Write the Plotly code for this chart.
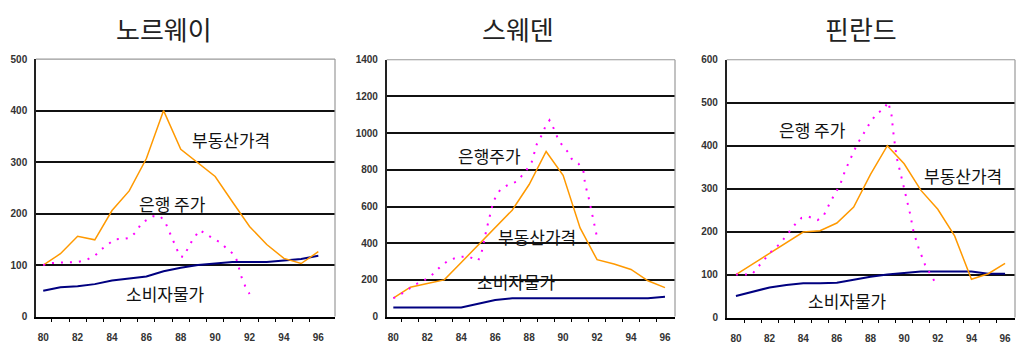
import plotly.graph_objects as go

# ---- data -------------------------------------------------------------
years = list(range(80, 97))

countries = ["노르웨이", "스웨덴", "핀란드"]

# Norway
nor_realestate = [100, 122, 156, 149, 206, 244, 307, 400, 325, 298, 272, 223, 175, 140, 113, 103, 126]
nor_cpi = [50, 57, 59, 63, 70, 74, 78, 88, 95, 100, 103, 106, 106, 106, 109, 112, 118]
nor_bank_x = [80, 80.5, 81, 81.5, 82, 82.5, 83, 83.4, 84.15, 84.65, 85.05, 85.45, 85.7, 86.4,
              86.8, 87.1, 87.3, 87.5, 87.7, 87.95, 88.15, 88.4, 88.65, 89.1, 89.5, 89.9, 90.3,
              90.7, 91.05, 91.25, 91.55, 91.75, 92.0]
nor_bank = [100, 104, 105, 106, 106, 110, 118, 131, 150, 151, 153, 166, 181, 195, 195, 183, 167,
            153, 138, 117, 116, 131, 147, 168, 159, 151, 144, 131, 122, 110, 75, 59, 44]

# Sweden
swe_realestate = [100, 160, 180, 200, 295, 390, 480, 580, 720, 900, 770, 483, 310, 287, 257, 195, 158]
swe_cpi = [50, 50, 50, 50, 50, 70, 90, 100, 100, 100, 100, 100, 100, 100, 100, 100, 108]
swe_bank_x = [80, 80.5, 81.3, 81.8, 82.2, 82.75, 83.25, 83.85, 84.4, 85.0, 85.2, 85.5, 85.9,
              86.3, 86.8, 87.3, 87.85, 88.15, 88.45, 88.75, 88.95, 89.2, 89.45, 89.65, 89.9,
              90.3, 90.5, 90.9, 91.2, 91.3, 91.5, 91.7, 91.9, 92.05]
swe_bank = [100, 125, 175, 197, 220, 270, 307, 325, 328, 305, 350, 480, 630, 693, 720, 737, 800,
            842, 940, 990, 1035, 1070, 1025, 980, 940, 895, 860, 835, 790, 720, 650, 560, 465, 410]

# Finland
fin_realestate = [100, 125, 150, 175, 199, 202, 220, 257, 333, 400, 358, 296, 252, 190, 89, 102, 126]
fin_cpi = [50, 60, 70, 76, 80, 80, 81, 88, 95, 100, 104, 107, 107, 107, 107, 102, 102]
fin_bank_x = [80, 80.45, 80.95, 81.25, 82.2, 82.6, 83.5, 83.9, 84.3, 84.85, 85.2, 85.6, 85.9,
              86.2, 86.5, 87.0, 87.2, 87.5, 87.95, 88.35, 88.8, 89.05, 89.25, 89.35, 89.55,
              89.85, 90.15, 90.35, 90.55, 90.85, 91.25, 91.55, 91.85, 92.05]
fin_bank = [100, 100, 100, 115, 158, 171, 216, 232, 235, 227, 236, 268, 289, 310, 343, 384, 403,
            422, 452, 474, 486, 502, 471, 433, 373, 325, 276, 242, 201, 163, 122, 103, 81, 75]

x_tick_vals = [80, 82, 84, 86, 88, 90, 92, 94, 96]
x_tick_text = ["80", "82", "84", "86", "88", "90", "92", "94", "96"]
minor_tick_vals = [y + 0.5 for y in range(80, 96)]

label_realestate = "부동산가격"
label_cpi = "소비자물가"
label_bank = ["은행 주가", "은행주가", "은행 주가"]

# ---- layout helpers -------------------------------------------------------
W, H = 1016, 347
C_RE, C_BANK, C_CPI = "#FF9900", "#FF00FF", "#000080"
KR_FONT = "Noto Sans CJK KR"
TICK_FONT = dict(family="Liberation Sans", size=10, color="#333333", weight="bold")

panels = [
    dict(real=nor_realestate, cpi=nor_cpi, bx=nor_bank_x, by=nor_bank,
         px=(36, 335), py=(55, 321.7), xr=(79.58, 96.97), yr=(0, 500), dy=100,
         lab=[(90.9, 344, label_realestate), (87.5, 219, label_bank[0]), (87.1, 44, label_cpi)],
         title_x=164),
    dict(real=swe_realestate, cpi=swe_cpi, bx=swe_bank_x, by=swe_bank,
         px=(386.7, 675), py=(55.7, 321.7), xr=(79.61, 96.59), yr=(0, 1400), dy=200,
         lab=[(88.46, 434, label_realestate), (85.64, 877, label_bank[1]), (87.28, 193, label_cpi)],
         title_x=518),
    dict(real=fin_realestate, cpi=fin_cpi, bx=fin_bank_x, by=fin_bank,
         px=(726.7, 1015), py=(55.7, 322.7), xr=(79.45, 96.59), yr=(0, 600), dy=100,
         lab=[(93.5, 330, label_realestate), (84.58, 438, label_bank[2]), (86.66, 40, label_cpi)],
         title_x=861),
]

fig = go.Figure()
annotations = []
shapes = []

for i, p in enumerate(panels, start=1):
    xa = "x" if i == 1 else f"x{i}"
    ya = "y" if i == 1 else f"y{i}"
    fig.add_trace(go.Scatter(x=years, y=p["cpi"], mode="lines", xaxis=xa, yaxis=ya,
                             line=dict(color=C_CPI, width=2), showlegend=False))
    fig.add_trace(go.Scatter(x=years, y=p["real"], mode="lines", xaxis=xa, yaxis=ya,
                             line=dict(color=C_RE, width=1.5), showlegend=False))
    fig.add_trace(go.Scatter(x=p["bx"], y=p["by"], mode="lines", xaxis=xa, yaxis=ya,
                             line=dict(color=C_BANK, width=2, dash="2px,7px"), showlegend=False))

    xdom = [p["px"][0] / W, p["px"][1] / W]
    ydom = [(H - p["py"][1]) / H, (H - p["py"][0]) / H]
    xkey = "xaxis" if i == 1 else f"xaxis{i}"
    ykey = "yaxis" if i == 1 else f"yaxis{i}"
    fig.update_layout(**{
        xkey: dict(domain=xdom, anchor=ya, range=list(p["xr"]),
                   tickmode="array", tickvals=x_tick_vals, ticktext=x_tick_text,
                   ticks="", showgrid=False, zeroline=False,
                   showline=True, linecolor="black", linewidth=2,
                   tickfont=TICK_FONT, ticklabelstandoff=10,
                   minor=dict(tickmode="array", tickvals=minor_tick_vals, ticks="outside",
                              ticklen=3, tickcolor="black", tickwidth=1, showgrid=False)),
        ykey: dict(domain=ydom, anchor=xa, range=list(p["yr"]), dtick=p["dy"], tick0=0,
                   showgrid=True, gridcolor="#111111", gridwidth=1.6, zeroline=False,
                   showline=True, linecolor="#222222", linewidth=1.5, ticks="",
                   tickfont=TICK_FONT, ticklabelstandoff=5),
    })

    # light frame on the top and right edges
    shapes.append(dict(type="line", xref=f"{xa} domain", yref=f"{ya} domain",
                       x0=0, x1=1, y0=1, y1=1, line=dict(color="#999999", width=1.2),
                       layer="above"))
    shapes.append(dict(type="line", xref=f"{xa} domain", yref=f"{ya} domain",
                       x0=1, x1=1, y0=0, y1=1, line=dict(color="#999999", width=1.2),
                       layer="above"))

    for lx, ly, txt in p["lab"]:
        annotations.append(dict(x=lx, y=ly, xref=xa, yref=ya, text=txt, showarrow=False,
                                font=dict(family=KR_FONT, size=17, color="#111111"),
                                xanchor="center", yanchor="middle"))

    annotations.append(dict(x=p["title_x"] / W, y=(H - 23) / H, xref="paper", yref="paper",
                            text=countries[i - 1], showarrow=False,
                            font=dict(family=KR_FONT, size=26, color="#222222"),
                            xanchor="center", yanchor="middle"))

fig.update_layout(width=W, height=H, margin=dict(l=0, r=0, t=0, b=0),
                  paper_bgcolor="white", plot_bgcolor="white",
                  annotations=annotations, shapes=shapes, showlegend=False)

fig.write_html("out.html")
